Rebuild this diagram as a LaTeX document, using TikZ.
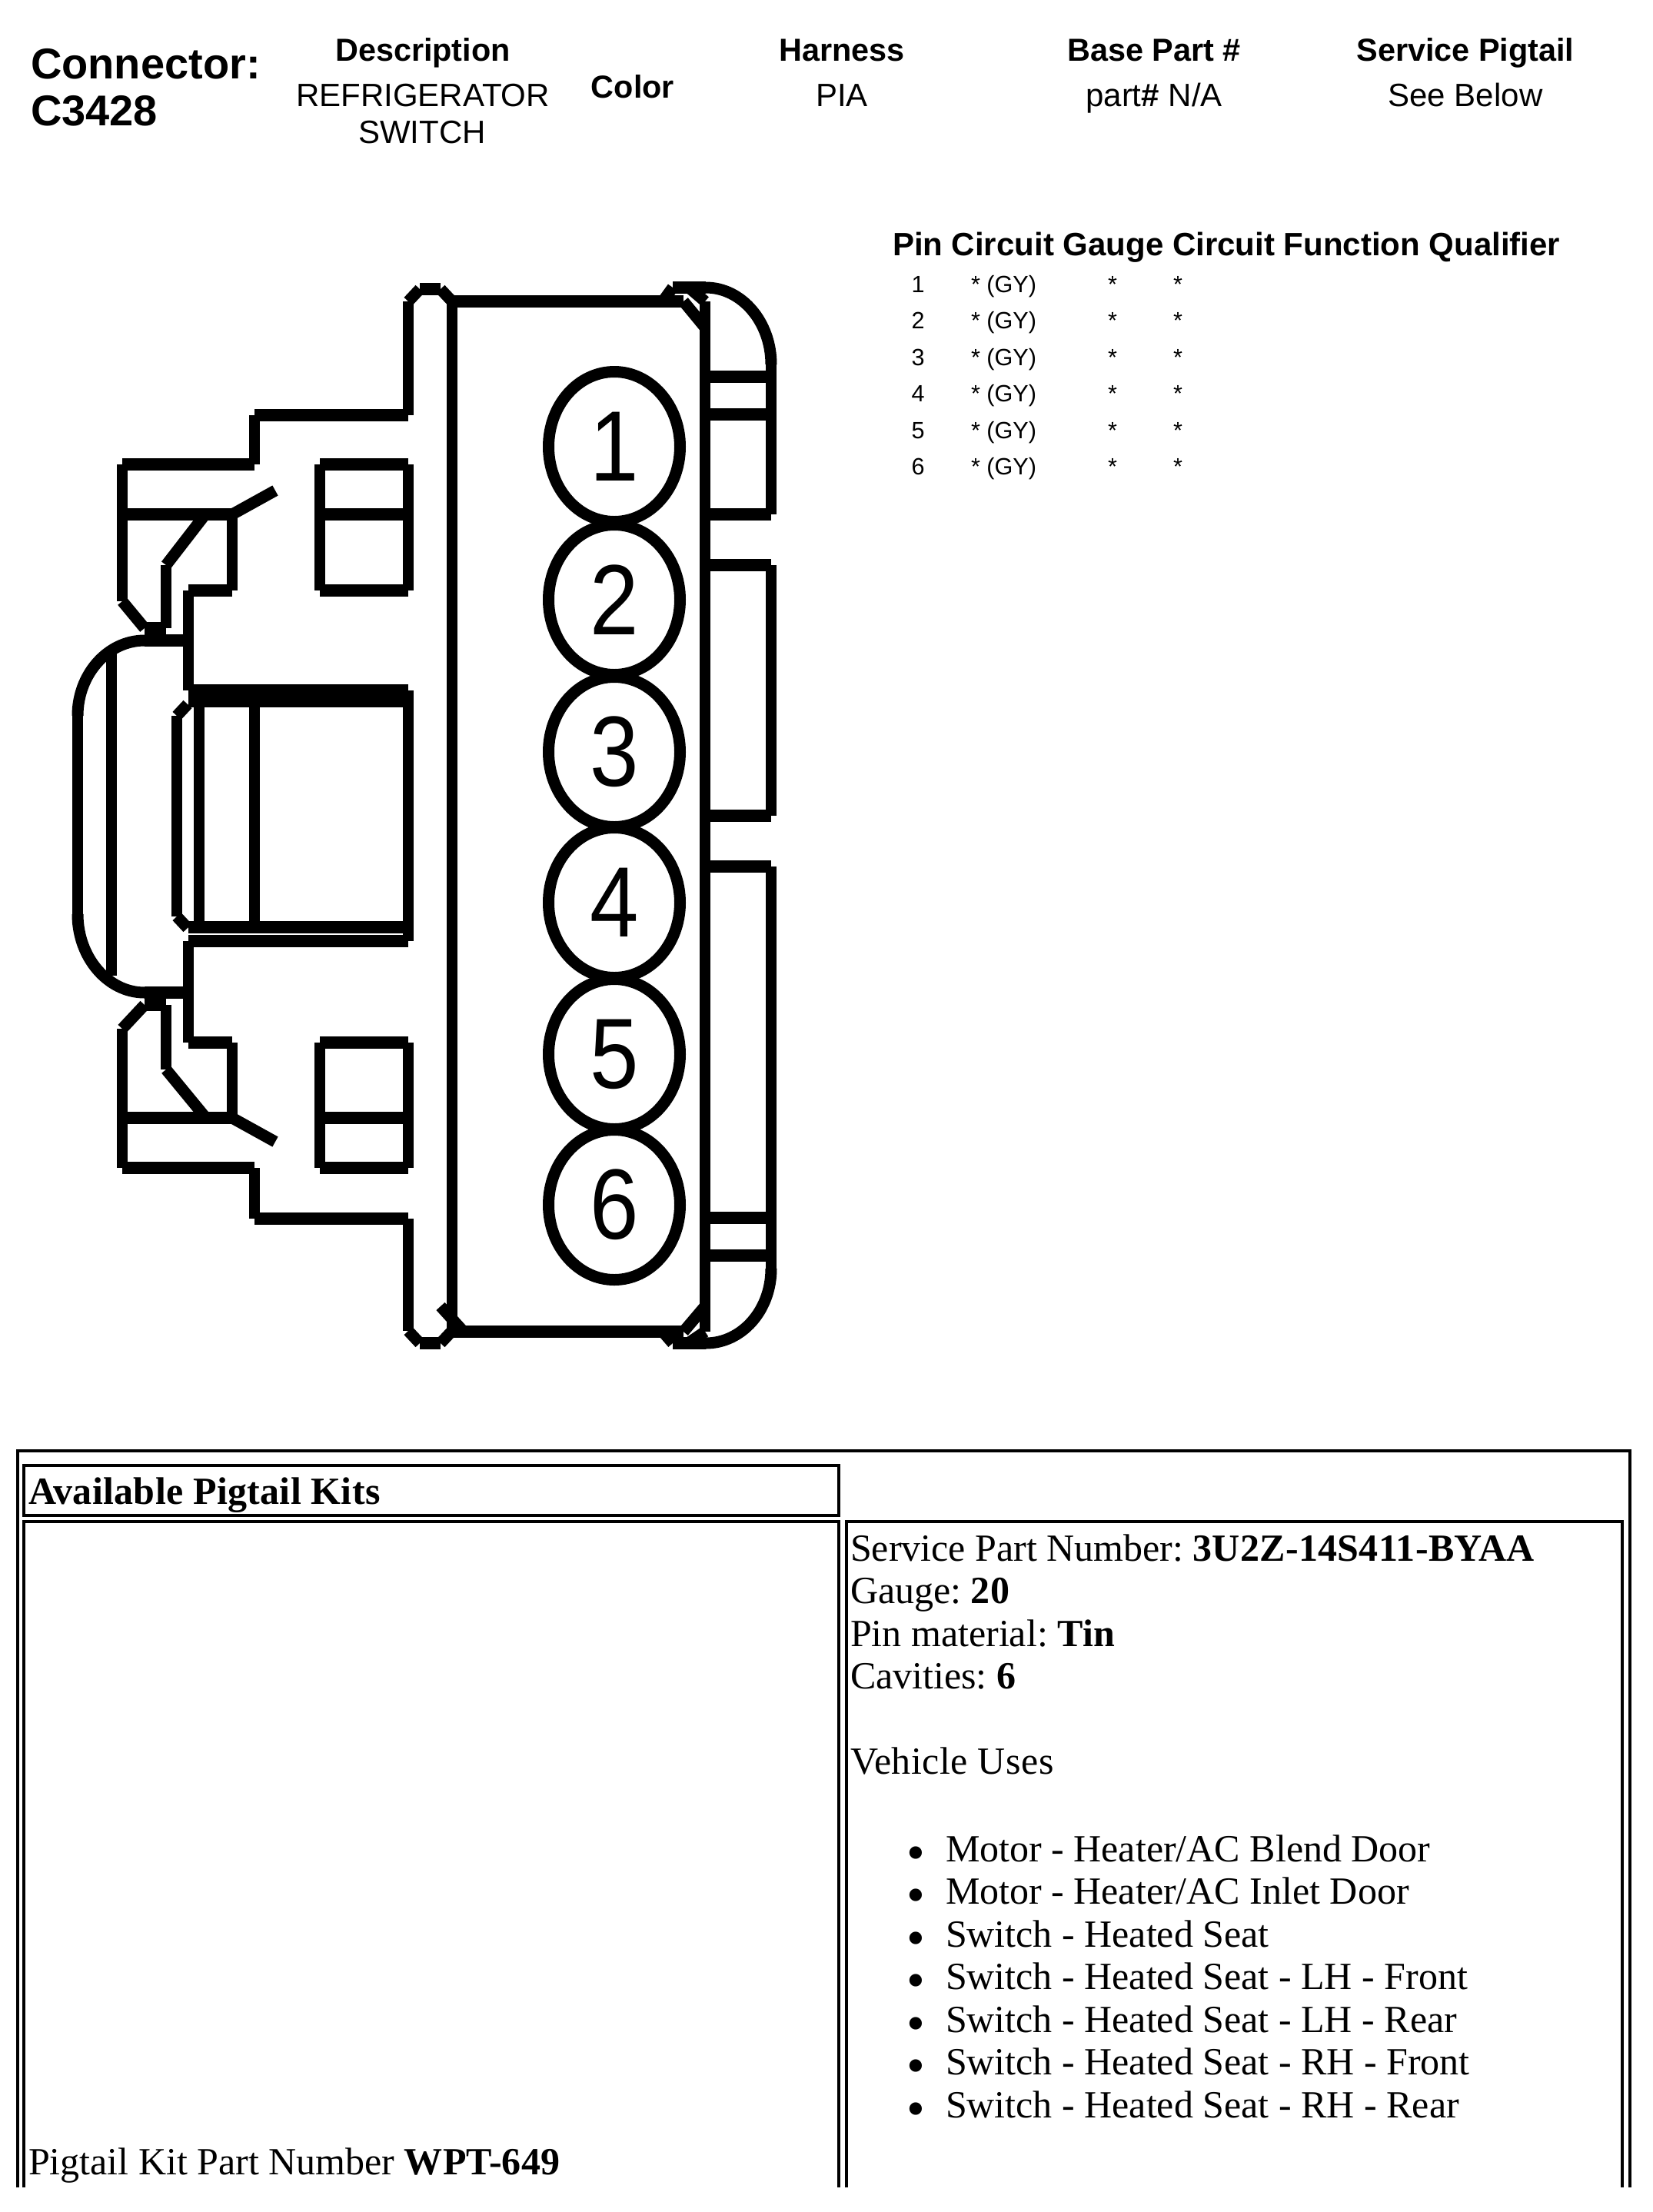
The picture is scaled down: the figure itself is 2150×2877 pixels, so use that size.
\documentclass[tikz,border=0pt]{standalone}
\usepackage{fontspec}
\usepackage{graphicx}
\usetikzlibrary{shapes.geometric}
\setmainfont[BoldFeatures={LetterSpace=0.6}]{Liberation Serif}
\newfontfamily\arialf{Liberation Sans}
\frenchspacing
\newcommand{\fsz}[1]{\fontsize{#1}{#1}\selectfont}
\tikzset{
  x=0.5pt,y=-0.5pt,
  hl/.style={line width=8pt,line cap=butt},
  vl/.style={line width=7pt,line cap=butt},
  dl/.style={line width=7.5pt,line cap=butt},
  arcl/.style={line width=7.5pt,line cap=butt},
  frame/.style={line width=1.7pt,draw=black},
  txt/.style={inner sep=0pt,outer sep=0pt},
  conn/.style={txt,anchor=base west,font=\arialf\bfseries\fsz{28}},
  head/.style={txt,anchor=base,font=\arialf\bfseries\fsz{20.7}},
  val/.style={txt,anchor=base,font=\arialf\fsz{21}},
  tblh/.style={txt,anchor=base west,font=\arialf\bfseries\fsz{21}},
  tbl/.style={txt,anchor=base,font=\arialf\fsz{15.3}},
  tbll/.style={txt,anchor=base west,font=\arialf\fsz{15.3}},
  serif/.style={txt,anchor=base west,font=\fsz{25}},
  bul/.style={txt,anchor=base,font=\fsz{34}},
  pin/.style={ellipse,draw,line width=7.5pt,inner sep=0pt,outer sep=0pt,minimum width=85.5pt,minimum height=97.5pt,font=\arialf\fsz{57}},
}
\newcommand{\pinnum}[2]{\raisebox{#2pt}{\scalebox{1}[1.14]{#1}}}
\begin{document}
\begin{tikzpicture}
\useasboundingbox (0,0) rectangle (2150,2877);
% connector: horizontal strokes
\foreach \a/\b/\c in {
  546/573/376, 588/889/392, 875/918/374,
  331/531/540, 159/331/604, 416/531/604,
  159/302/669, 416/531/669, 245/302/768, 416/531/768,
  188/216/817, 188/245/833,
  245/531/898, 245/531/912, 245/531/1206, 245/531/1224,
  188/245/1291, 188/216/1307,
  245/302/1356, 416/531/1356, 159/302/1454, 416/531/1454,
  159/331/1519, 416/531/1519, 331/531/1585,
  546/573/1747, 588/889/1732, 875/918/1747,
  917/1003/490, 917/1003/539, 917/1003/669,
  917/1003/735, 917/1003/1061, 917/1003/1127,
  917/1003/1584, 917/1003/1633}
  \draw[hl] (\a,\c) -- (\b,\c);
% connector: vertical strokes
\foreach \a/\b/\c in {
  531/392/540, 588/392/1732, 331/540/604, 159/604/782, 216/735/817,
  302/669/768, 416/604/768, 531/604/768, 245/768/898,
  531/898/1224, 259/912/1206, 331/912/1206, 230/931/1192,
  101/931/1189, 145/849/1269,
  245/1224/1356, 302/1356/1454, 216/1307/1391, 159/1338/1519,
  416/1356/1519, 531/1356/1519, 331/1519/1585, 531/1585/1731,
  917/392/1732, 1003/474/669, 1003/735/1061, 1003/1127/1650}
  \draw[vl] (\a,\b) -- (\a,\c);
% connector: slanted strokes
\foreach \a/\b/\c/\d in {
  531/392/546/376, 573/376/588/392, 862/392/875/374, 896/374/917/392, 889/392/917/426,
  159/782/188/817, 216/735/267/669, 302/669/358/638,
  230/931/244/916, 230/1192/244/1207,
  302/1454/358/1485, 267/1453/216/1391, 188/1307/159/1338,
  531/1731/546/1747, 573/1747/588/1731, 573/1699/603/1732,
  862/1732/875/1747, 895/1747/917/1732, 889/1732/917/1699}
  \draw[dl] (\a,\b) -- (\c,\d);
% connector: rounded corners
\draw[arcl] (101,931) .. controls (101,877) and (140,833) .. (188,833);
\draw[arcl] (101,1189) .. controls (101,1245) and (140,1291) .. (188,1291);
\draw[arcl] (918,374) .. controls (965,374) and (1003,419) .. (1003,474);
\draw[arcl] (1003,1650) .. controls (1003,1704) and (965,1747) .. (918,1747);
% pins
\node[pin] (p1) at (799,581) {\pinnum{1}{0}};
\node[pin] (p2) at (799,780) {\pinnum{2}{-1}};
\node[pin] (p3) at (799,978) {\pinnum{3}{-1.5}};
\node[pin] (p4) at (799,1174) {\pinnum{4}{0}};
\node[pin] (p5) at (799,1371) {\pinnum{5}{0}};
\node[pin] (p6) at (799,1567) {\pinnum{6}{-1}};
% title block
\node[conn] (t1) at (40,102) {Connector:};
\node[conn] (t2) at (40,163) {C3428};
\node[head] (h1) at (550,79) {Description};
\node[val] (v1a) at (550,138) {REFRIGERATOR};
\node[val] (v1b) at (549,186) {SWITCH};
\node[head] (h2) at (823,127) {Color};
\node[head] (h3) at (1095,79) {Harness};
\node[val] (v3) at (1095,138) {PIA};
\node[head] (h4) at (1501,79) {Base Part \#};
\node[val] (v4) at (1501,138) {part\textbf{\#} N/A};
\node[head] (h5) at (1906,79) {Service Pigtail};
\node[val] (v5) at (1906,138) {See Below};
% pin table
\node[tblh] (th) at (1161,332) {Pin Circuit Gauge Circuit Function Qualifier};
\foreach \n/\y in {1/380,2/427,3/475,4/522,5/570,6/617}{
  \node[tbl] (r\n a) at (1194,\y) {\n};
  \node[tbll] (r\n b) at (1263,\y) {* (GY)};
  \node[tbl] (r\n c) at (1447,\y) {*};
  \node[tbl] (r\n d) at (1532,\y) {*};
}
% lower table frames
\draw[frame] (23,2845) -- (23,1887) -- (2120,1887) -- (2120,2845);
\draw[frame] (31,1906) rectangle (1091,1971);
\draw[frame] (31,2845) -- (31,1979) -- (1091,1979) -- (1091,2845);
\draw[frame] (1101,2845) -- (1101,1979) -- (2110,1979) -- (2110,2845);
% lower table text
\node[serif] (k1) at (37,1956) {\textbf{Available Pigtail Kits}};
\node[serif] (k2) at (37,2828) {Pigtail Kit Part Number \textbf{WPT-649}};
\node[serif] (s1) at (1106,2030) {Service Part Number: \textbf{3U2Z-14S411-BYAA}};
\node[serif] (s2) at (1106,2085) {Gauge: \textbf{20}};
\node[serif] (s3) at (1106,2141) {Pin material: \textbf{Tin}};
\node[serif] (s4) at (1106,2196) {Cavities: \textbf{6}};
\node[serif] (s5) at (1106,2307) {\addfontfeature{LetterSpace=1}Vehicle Uses};
\node[bul] (b1) at (1191,2432) {•}; \node[serif] (u1) at (1230,2421) {Motor - Heater/AC Blend Door};
\node[bul] (b2) at (1191,2487) {•}; \node[serif] (u2) at (1230,2476) {Motor - Heater/AC Inlet Door};
\node[bul] (b3) at (1191,2543) {•}; \node[serif] (u3) at (1230,2532) {Switch - Heated Seat};
\node[bul] (b4) at (1191,2598) {•}; \node[serif] (u4) at (1230,2587) {Switch - Heated Seat - LH - Front};
\node[bul] (b5) at (1191,2654) {•}; \node[serif] (u5) at (1230,2643) {Switch - Heated Seat - LH - Rear};
\node[bul] (b6) at (1191,2709) {•}; \node[serif] (u6) at (1230,2698) {Switch - Heated Seat - RH - Front};
\node[bul] (b7) at (1191,2765) {•}; \node[serif] (u7) at (1230,2754) {Switch - Heated Seat - RH - Rear};
\end{tikzpicture}
\end{document}
